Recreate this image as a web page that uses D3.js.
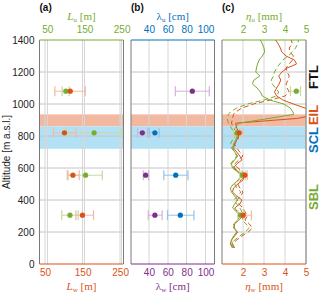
<!DOCTYPE html>
<html><head><meta charset="utf-8">
<script src="https://cdn.jsdelivr.net/npm/d3@7"></script>
<style>
body{margin:0;background:#fff;}
svg{display:block;}
text{font-family:"Liberation Sans",Arial,sans-serif;}
</style></head>
<body>
<script>
// ---------- data ----------
const obsAlt = [1080, 820, 555, 305];
// panel (a)
const Lu    = [100, 176, 153, 111];
const LuLo  = [90, 102, 106, 89];
const LuHi  = [109, 250, 198, 133];
const Lw    = [117, 101.5, 124, 149.5];
const LwLo  = [76, 72, 109, 132];
const LwHi  = [157, 132, 141, 179];
// panel (b)
const lamU   = [null, 46.3, 68.4, 73.3];
const lamULo = [null, 40.3, 55.8, 59.7];
const lamUHi = [null, 50.8, 81.4, 87.7];
const lamW   = [86, 33, 36.5, 46.3];
const lamWLo = [68, 28, 34, 39.3];
const lamWHi = [104, 38.6, 39.7, 54];
// panel (c) points
const etaU   = [4.54, 1.72, 1.98, 1.89];
const etaULo = [4.26, 1.55, 1.85, 1.75];
const etaUHi = [4.74, 1.85, 2.1, 2.05];
const etaW   = [null, 1.82, 2.09, 2.01];
const etaWLo = [null, 1.65, 1.95, 1.75];
const etaWHi = [null, 2.0, 2.2, 2.4];
// panel (c) profiles
const profAlt = [100,125,150,175,200,225,250,275,300,325,350,375,400,425,450,475,500,525,550,575,600,625,650,675,700,725,750,775,800,825,850,
  880,910,935,950,975,1000,1025,1050,1075,1100,1125,1150,1175,1200,1225,1250,1275,1300,1325,1350,1375,1400];
const etaUsolid = [1.6,1.5,1.45,1.55,1.7,1.6,1.55,1.75,1.85,1.7,1.5,1.6,1.75,1.6,1.45,1.4,1.55,1.8,1.9,1.75,1.5,1.45,1.6,1.75,1.6,1.5,1.55,1.65,1.72,1.7,1.62,
  1.8,3.25,4.41,4.38,4.25,3.94,3.27,2.92,2.83,2.67,2.45,2.52,2.8,2.61,2.64,2.69,2.77,2.92,3.03,3.0,2.92,2.83];
const etaWsolid = [1.5,1.4,1.45,1.6,1.75,1.55,1.6,1.8,2.0,1.75,1.6,1.85,1.95,1.7,1.5,1.55,1.75,2.0,2.05,1.8,1.55,1.7,1.95,1.85,1.7,1.55,1.6,1.7,1.78,1.8,1.7,
  1.65,4.6,5.5,5.4,4.95,4.4,3.9,3.6,3.5,3.6,3.72,3.8,3.7,3.85,4.1,4.55,4.45,4.05,3.85,3.78,3.68,3.55];
const etaUdash = [1.55,1.45,1.6,1.85,2.1,2.3,2.15,1.95,2.05,1.95,1.85,1.7,1.55,1.75,1.9,1.7,1.6,1.75,1.95,1.85,1.6,1.4,1.55,1.7,1.6,1.45,1.4,1.5,1.65,1.55,1.45,
  1.3,1.25,1.3,1.4,1.7,2.2,3.0,3.6,3.7,3.55,3.4,3.35,3.45,3.5,3.6,3.75,3.9,4.15,4.35,4.5,4.6,4.65];
const etaWdash = [1.6,1.5,1.7,1.95,2.25,2.45,2.3,2.1,2.2,2.1,2.0,1.8,1.7,1.9,2.0,1.85,1.75,1.9,2.1,2.0,1.75,1.6,1.8,2.0,1.85,1.7,1.6,1.75,1.8,1.7,1.55,
  1.45,1.5,1.55,1.65,1.95,2.5,3.3,4.0,4.2,4.1,4.05,4.15,4.2,4.1,4.05,4.2,4.35,4.4,4.25,4.2,4.35,4.3];
// layers
const layerNames = ["FTL","EIL","SCL","SBL"];
const eilBand = [860, 935];
const sclBand = [720, 860];
const altTicks = [0,200,400,600,800,1000,1200,1400];
const LTicks = [50,150,250];
const lamTicks = [40,60,80,100];
const etaTicks = [2,3,4,5];

// ---------- styles ----------
const C = {green:"#77ac30", orange:"#d95319", blue:"#0072bd", purple:"#7e2f8e",
  greenL:"#c3dba0", orangeL:"#f3b9a3", blueL:"#92c4e8", purpleL:"#d3b3d9",
  bandO:"#f2b8a0", bandB:"#b2e1f6", grid:"#d6d6d6", frame:"#7a7a7a", txt:"#222"};

const W=320,H=295, yTop=40, yBot=264;
const fmt = d3.format("d");
const svg = d3.select("body").append("svg").attr("width",W).attr("height",H);
const y = d3.scaleLinear().domain([0,1400]).range([yBot,yTop]);

const P = [
  {x0:39.5, x1:123.5, label:"(a)",
   top:d3.scaleLinear().domain([29,255]).range([39.5,123.5]),
   bot:d3.scaleLinear().domain([35,259]).range([39.5,123.5]),
   ticks:LTicks, topCol:C.green, botCol:C.orange,
   topLab:[["L","i"],["u","s"],[" [m]",""]], botLab:[["L","i"],["w","s"],[" [m]",""]]},
  {x0:131, x1:214.5, label:"(b)",
   top:d3.scaleLinear().domain([21,109.5]).range([131,214.5]),
   bot:d3.scaleLinear().domain([21,109.5]).range([131,214.5]),
   ticks:lamTicks, topCol:C.blue, botCol:C.purple,
   topLab:[["λ",""],["u","s"],[" [cm]",""]], botLab:[["λ",""],["w","s"],[" [cm]",""]]},
  {x0:222, x1:306, label:"(c)",
   top:d3.scaleLinear().domain([1,5]).range([222,306]),
   bot:d3.scaleLinear().domain([1,5]).range([222,306]),
   ticks:etaTicks, topCol:C.green, botCol:C.orange,
   topLab:[["η","i"],["u","s"],[" [mm]",""]], botLab:[["η","i"],["w","s"],[" [mm]",""]]}
];

function axisLabel(g, parts, x, yy, col){
  const t = g.append("text").attr("x",x).attr("y",yy).attr("text-anchor","middle")
    .attr("fill",col).style("font-family","'Liberation Serif','Times New Roman',serif").attr("font-size",11);
  let dy=0;
  parts.forEach(([s,f])=>{
    const ts=t.append("tspan").text(s);
    if(f==="i") ts.attr("font-style","italic");
    if(f==="s"){ ts.attr("font-size",7).attr("dy",2-dy); dy=2; }
    else if(dy){ ts.attr("dy",-dy); dy=0; }
  });
}

P.forEach((p,i)=>{
  const g = svg.append("g");
  // bands
  g.append("rect").attr("x",p.x0).attr("width",p.x1-p.x0)
    .attr("y",y(eilBand[1])).attr("height",y(eilBand[0])-y(eilBand[1])).attr("fill",C.bandO);
  g.append("rect").attr("x",p.x0).attr("width",p.x1-p.x0)
    .attr("y",y(sclBand[1])).attr("height",y(sclBand[0])-y(sclBand[1])).attr("fill",C.bandB);
  // grid
  altTicks.slice(1,-1).forEach(a=>{
    g.append("line").attr("x1",p.x0).attr("x2",p.x1).attr("y1",y(a)).attr("y2",y(a))
      .attr("stroke","#c4c4c4").attr("stroke-width",1);
  });
  const vt = new Set();
  p.ticks.forEach(t=>{ vt.add(Math.round(p.top(t)*2)/2); vt.add(Math.round(p.bot(t)*2)/2); });
  vt.forEach(xv=>{
    g.append("line").attr("x1",xv).attr("x2",xv).attr("y1",yTop).attr("y2",yBot)
      .attr("stroke",C.grid).attr("stroke-width",1);
  });
  // frame
  g.append("line").attr("x1",p.x0).attr("x2",p.x0).attr("y1",yTop).attr("y2",yBot).attr("stroke",C.frame);
  g.append("line").attr("x1",p.x1).attr("x2",p.x1).attr("y1",yTop).attr("y2",yBot).attr("stroke",C.frame);
  g.append("line").attr("x1",p.x0).attr("x2",p.x1).attr("y1",yTop).attr("y2",yTop).attr("stroke",p.topCol);
  g.append("line").attr("x1",p.x0).attr("x2",p.x1).attr("y1",yBot).attr("y2",yBot).attr("stroke",p.botCol);
  // axes text
  const ta = g.append("g").attr("transform",`translate(0,${yTop})`)
    .call(d3.axisTop(p.top).tickValues(p.ticks).tickFormat(fmt).tickSize(0).tickPadding(7));
  ta.select(".domain").remove();
  ta.selectAll("text").attr("fill",p.topCol).attr("font-size",10).style("font-family","'Liberation Sans',Arial,sans-serif");
  const ba = g.append("g").attr("transform",`translate(0,${yBot})`)
    .call(d3.axisBottom(p.bot).tickValues(p.ticks).tickFormat(fmt).tickSize(0).tickPadding(5));
  ba.select(".domain").remove();
  ba.selectAll("text").attr("fill",p.botCol).attr("font-size",10).style("font-family","'Liberation Sans',Arial,sans-serif");
  const cx=(p.x0+p.x1)/2;
  axisLabel(g,p.topLab,cx,20,p.topCol);
  axisLabel(g,p.botLab,cx,290,p.botCol);
  g.append("text").attr("x",p.x0).attr("y",11).attr("font-weight","bold").attr("font-size",10)
    .attr("fill","#111").text(p.label);
});

// y axis
const ya = svg.append("g").attr("transform",`translate(${P[0].x0},0)`)
  .call(d3.axisLeft(y).tickValues(altTicks).tickFormat(fmt).tickSize(0).tickPadding(5));
ya.select(".domain").remove();
ya.selectAll("text").attr("fill",C.txt).attr("font-size",10).style("font-family","'Liberation Sans',Arial,sans-serif");
svg.append("text").attr("transform",`translate(10,${(yTop+yBot)/2}) rotate(-90)`).attr("text-anchor","middle")
  .attr("font-size",10).attr("fill",C.txt).text("Altitude [m a.s.l.]");

// error bars + points
function errPts(scale, vals, lo, hi, col, colL){
  const g = svg.append("g");
  obsAlt.forEach((a,i)=>{
    if(vals[i]==null) return;
    const yy=y(a), x1=scale(lo[i]), x2=scale(hi[i]);
    g.append("line").attr("x1",x1).attr("x2",x2).attr("y1",yy).attr("y2",yy).attr("stroke",colL).attr("stroke-width",1);
    [x1,x2].forEach(xx=>g.append("line").attr("x1",xx).attr("x2",xx).attr("y1",yy-5).attr("y2",yy+5).attr("stroke",colL).attr("stroke-width",1.2));
  });
  return ()=>obsAlt.forEach((a,i)=>{
    if(vals[i]==null) return;
    svg.append("circle").attr("cx",scale(vals[i])).attr("cy",y(a)).attr("r",2.6).attr("fill",col);
  });
}
// panel a
let d1=errPts(P[0].top,Lu,LuLo,LuHi,C.green,C.greenL);
let d2=errPts(P[0].bot,Lw,LwLo,LwHi,C.orange,C.orangeL);
d1(); d2();
// panel b
d1=errPts(P[1].bot,lamW,lamWLo,lamWHi,C.purple,C.purpleL);
d2=errPts(P[1].top,lamU,lamULo,lamUHi,C.blue,C.blueL);
d1(); d2();

// panel c profiles
svg.append("clipPath").attr("id","clipc").append("rect")
  .attr("x",P[2].x0).attr("y",yTop).attr("width",P[2].x1-P[2].x0).attr("height",yBot-yTop);
const gc = svg.append("g").attr("clip-path","url(#clipc)");
const xc = P[2].top;
const line = vals => d3.line().x((d,i)=>xc(vals[i])).y((d,i)=>y(profAlt[i]))(profAlt);
[[etaWdash,C.orange,"5,3"],[etaUdash,C.green,"5,3"],[etaWsolid,C.orange,null],[etaUsolid,C.green,null]].forEach(([v,c,da])=>{
  const p=gc.append("path").attr("d",line(v)).attr("fill","none").attr("stroke",c).attr("stroke-width",1);
  if(da) p.attr("stroke-dasharray",da);
});
d1=errPts(xc,etaW,etaWLo,etaWHi,C.orange,C.orangeL);
d2=errPts(xc,etaU,etaULo,etaUHi,C.green,C.greenL);
d2(); d1();

// layer labels
const layerY=[77,115,140,197], layerCol=["#111",C.orange,C.blue,C.green];
layerNames.forEach((n,i)=>{
  svg.append("text").attr("transform",`translate(318,${layerY[i]}) rotate(-90)`).attr("text-anchor","middle")
    .attr("font-weight","bold").attr("font-size",13).attr("fill",layerCol[i]).text(n);
});
</script>
</body></html>
